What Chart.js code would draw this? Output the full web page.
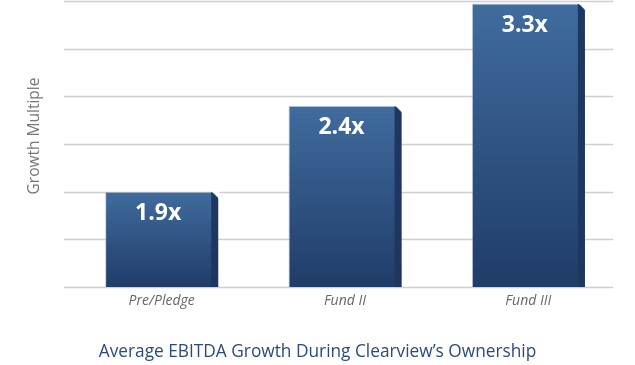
<!DOCTYPE html>
<html>
<head>
<meta charset="utf-8">
<script src="https://cdn.jsdelivr.net/npm/chart.js@4"></script>
<style>
  html, body { margin: 0; padding: 0; background: #ffffff; }
  #wrap { width: 635px; height: 365px; }
</style>
</head>
<body>
<div id="wrap"><canvas id="c" width="635" height="365"></canvas></div>
<script>
// ---- data ----
const categories = ["Pre/Pledge", "Fund II", "Fund III"];
const multiples = [1.9, 2.4, 3.3];          // labelled values
const barHeights = [2.0, 3.8, 5.95];         // drawn bar heights, in gridline units as pictured
const yTicks = [0, 1, 2, 3, 4, 5, 6];
const yTitle = "Growth Multiple";
const xTitle = "Average EBITDA Growth During Clearview\u2019s Ownership";

const SIDE = 7;
const FONT = "'Open Sans', 'Noto Sans', sans-serif";

const gridPlugin = {
  id: 'shiftedGrid',
  beforeDatasetsDraw(chart) {
    const { ctx, chartArea, scales } = chart;
    ctx.save();
    ctx.strokeStyle = '#cfcfcf';
    ctx.lineWidth = 1.5;
    yTicks.forEach(v => {
      const y = Math.round(scales.y.getPixelForValue(v)) + 0.5;
      ctx.beginPath();
      ctx.moveTo(chartArea.left - 6, y);
      ctx.lineTo(chartArea.right - 7, y);
      ctx.stroke();
    });
    ctx.restore();
  }
};

const titlesPlugin = {
  id: 'titles',
  afterDraw(chart) {
    const { ctx, width } = chart;
    ctx.save();
    ctx.textAlign = 'center';
    ctx.textBaseline = 'middle';
    ctx.fillStyle = '#2b4b7c';
    ctx.font = "17.3px " + FONT;
    ctx.fillText(xTitle, width / 2, 352);
    ctx.translate(35, 136);
    ctx.rotate(-Math.PI / 2);
    ctx.fillStyle = '#777777';
    ctx.font = "15.5px " + FONT;
    ctx.fillText(yTitle, 0, 0);
    ctx.restore();
  }
};

const sidePlugin = {
  id: 'barSides',
  afterDatasetsDraw(chart) {
    const { ctx } = chart;
    const meta = chart.getDatasetMeta(0);
    ctx.save();
    meta.data.forEach((bar, i) => {
      const right = bar.x + bar.width / 2;
      const top = bar.y;
      const base = bar.base;
      ctx.fillStyle = '#ffffff';
      ctx.beginPath();
      ctx.moveTo(right - SIDE, top - 1);
      ctx.lineTo(right + 1, top - 1);
      ctx.lineTo(right + 1, top + SIDE);
      ctx.closePath();
      ctx.fill();
      ctx.fillStyle = '#1e3761';
      ctx.beginPath();
      ctx.moveTo(right - SIDE, top);
      ctx.lineTo(right, top + SIDE);
      ctx.lineTo(right, base);
      ctx.lineTo(right - SIDE, base);
      ctx.closePath();
      ctx.fill();
      ctx.fillStyle = '#ffffff';
      ctx.font = "bold 23px " + FONT;
      ctx.textAlign = 'center';
      ctx.textBaseline = 'middle';
      ctx.fillText(multiples[i].toFixed(1) + 'x', bar.x - SIDE / 2, top + 22);
    });
    ctx.restore();
  }
};

new Chart(document.getElementById('c'), {
  type: 'bar',
  data: {
    labels: categories,
    datasets: [{
      data: barHeights,
      backgroundColor(context) {
        const chart = context.chart;
        const { chartArea, scales } = chart;
        if (!chartArea || !scales.y) return '#2f5283';
        const top = scales.y.getPixelForValue(context.raw);
        const base = scales.y.getPixelForValue(0);
        const g = chart.ctx.createLinearGradient(0, top, 0, base);
        g.addColorStop(0, '#406c9e');
        g.addColorStop(1, '#203c69');
        return g;
      },
      borderColor: 'rgba(150,175,210,0.55)',
      borderWidth: { top: 1, left: 1, right: 0, bottom: 0 },
      borderSkipped: 'start',
      categoryPercentage: 1,
      barPercentage: 0.617
    }]
  },
  options: {
    responsive: false,
    animation: false,
    devicePixelRatio: 1,
    layout: { padding: { left: 0, right: 15, top: 1, bottom: 0 } },
    plugins: { legend: { display: false }, tooltip: { enabled: false } },
    scales: {
      x: {
        grid: { display: false, drawTicks: false },
        border: { display: false },
        ticks: { color: '#666666', font: { family: FONT, size: 14, style: 'italic' }, padding: 6 },
        afterFit(scale) { scale.height = 78; }
      },
      y: {
        min: 0, max: 6,
        afterBuildTicks(scale) { scale.ticks = yTicks.map(v => ({ value: v })); },
        grid: { display: false, drawTicks: false },
        border: { display: false },
        ticks: { display: false },
        afterFit(scale) { scale.width = 70; }
      }
    }
  },
  plugins: [gridPlugin, sidePlugin, titlesPlugin]
});
</script>
</body>
</html>
